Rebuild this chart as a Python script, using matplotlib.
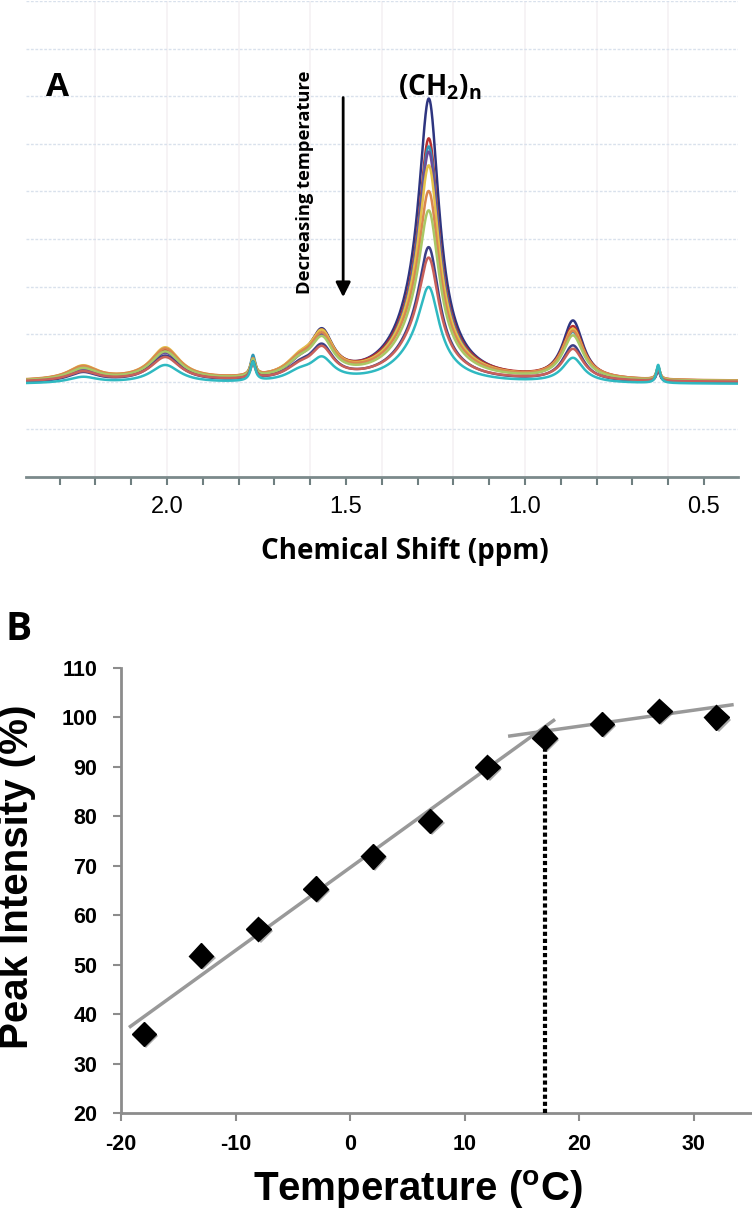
import numpy as np
import matplotlib
matplotlib.use("Agg")
import matplotlib.pyplot as plt
import matplotlib.patheffects as pe
from matplotlib.ticker import MultipleLocator

plt.rcParams['mathtext.fontset'] = 'custom'
plt.rcParams['mathtext.bf'] = 'Liberation Sans:bold'
plt.rcParams['mathtext.sf'] = 'Open Sans:bold'

# ---------------- Panel A data (1H NMR spectra, arbitrary units) ----------------
curve_colors = ['#2e3580', '#b8302e', '#2f97b5', '#6a4c9c', '#e3c24a',
                '#d9874f', '#a9c865', '#3b3f86', '#c8605a', '#2fb9c1']
baselines = [1.96, 2.00, 1.98, 1.97, 2.00, 2.01, 2.00, 1.97, 1.99, 1.95]

peak_centers = [2.235, 2.005, 1.76, 1.63, 1.567, 1.29, 1.268, 0.866, 0.628]
peak_widths = [0.05, 0.05, 0.008, 0.045, 0.038, 0.08, 0.033, 0.035, 0.006]
amp_222 = [0.30, 0.28, 0.25, 0.25, 0.30, 0.28, 0.25, 0.20, 0.20, 0.13]
amp_200 = [0.65, 0.62, 0.60, 0.60, 0.68, 0.65, 0.60, 0.55, 0.50, 0.38]
amp_176 = [0.40, 0.35, 0.45, 0.35, 0.35, 0.35, 0.35, 0.35, 0.30, 0.40]
amp_163 = [0.30, 0.30, 0.28, 0.28, 0.32, 0.30, 0.28, 0.25, 0.22, 0.18]
amp_157 = [0.90, 0.85, 0.80, 0.80, 0.85, 0.80, 0.75, 0.65, 0.60, 0.45]
amp_broad = [1.20, 1.12, 1.08, 1.08, 1.08, 1.04, 0.96, 0.80, 0.76, 0.64]
amp_ch2 = [4.84, 4.04, 3.93, 3.83, 3.51, 3.00, 2.68, 2.09, 1.89, 1.43]
amp_087 = [1.25, 1.10, 1.00, 1.05, 1.05, 1.00, 0.92, 0.75, 0.66, 0.52]
amp_063 = [0.25, 0.25, 0.30, 0.25, 0.25, 0.25, 0.25, 0.25, 0.25, 0.38]
peak_amps = [amp_222, amp_200, amp_176, amp_163, amp_157, amp_broad, amp_ch2, amp_087, amp_063]

ppm_min, ppm_max = 0.405, 2.394
a_ticks = [2.0, 1.5, 1.0, 0.5]
a_ticklabels = ['2.0', '1.5', '1.0', '0.5']
a_vgrid = [2.2, 2.0, 1.8, 1.6, 1.4, 1.2, 1.0, 0.8, 0.6]

# ---------------- Panel B data ----------------
temps = [-18, -13, -8, -3, 2, 7, 12, 17, 22, 27, 32]
intensity = [36.0, 51.8, 57.2, 65.4, 71.9, 79.1, 90.0, 95.9, 98.7, 101.3, 100.0]
fit1_x = [-19.3, 17.9]
fit1_y = [37.3, 99.6]
fit2_x = [13.8, 33.5]
fit2_y = [96.2, 102.6]
transition_T = 17
b_xticks = [-20, -10, 0, 10, 20, 30]
b_yticks = [20, 30, 40, 50, 60, 70, 80, 90, 100, 110]

W, H = 752, 1213
fig = plt.figure(figsize=(W / 100, H / 100), dpi=100)


def fx(px):
    return px / W


def fy(py):
    return 1 - py / H


# ================= Panel A =================
axA = fig.add_axes([fx(26), fy(477), (738 - 26) / W, 476 / H])
axA.set_xlim(ppm_max, ppm_min)
axA.set_ylim(0, 10)

for gx in a_vgrid:
    axA.axvline(gx, color='#f5f1f3', lw=1.2, zorder=0)
for gy in range(1, 11):
    axA.axhline(gy, color='#d9e1ec', lw=1.0, ls=(0, (2, 1.2)), zorder=0)

ppm = np.linspace(ppm_max, ppm_min, 3000)


def lorentz(x, c, g):
    return g ** 2 / ((x - c) ** 2 + g ** 2)


for i, col in enumerate(curve_colors):
    y = np.full_like(ppm, baselines[i])
    for c, g, amps in zip(peak_centers, peak_widths, peak_amps):
        y = y + amps[i] * lorentz(ppm, c, g)
    axA.plot(ppm, y, color=col, lw=1.8, zorder=2 + i * 0.01)

for s in ['top', 'left', 'right']:
    axA.spines[s].set_visible(False)
axA.spines['bottom'].set_color('#7b8a8b')
axA.spines['bottom'].set_linewidth(2)
axA.set_yticks([])
axA.set_xticks(a_ticks)
axA.set_xticklabels(a_ticklabels, fontsize=17, family='Liberation Sans')
axA.xaxis.set_minor_locator(MultipleLocator(0.1))
axA.tick_params(axis='x', which='both', direction='out', length=6, width=1.5,
                color='#6f7f80', pad=8)

# arrow and annotations
axA.annotate('', xy=(1.508, 3.72), xytext=(1.508, 8.03),
             arrowprops=dict(arrowstyle='-|>', lw=2, color='black', mutation_scale=22))
fig.text(fx(305), fy(182), 'Decreasing temperature', rotation=90, ha='center', va='center',
         fontsize=13.2, fontweight='bold', family='Open Sans')
fig.text(fx(440), fy(87), r'(CH$_{\mathsf{2}}$)$_{\mathsf{n}}$', ha='center', va='center',
         fontsize=20, fontweight='bold', family='Open Sans')
fig.text(fx(57), fy(88), 'A', ha='center', va='center', fontsize=24, fontweight='bold', family='Open Sans')
fig.text(fx(405), fy(552), 'Chemical Shift (ppm)', ha='center', va='center',
         fontsize=20, fontweight='bold', family='Open Sans')

# ================= Panel B =================
axB = fig.add_axes([fx(121), fy(1113), (752 - 121) / W, 445 / H])
axB.set_xlim(-20, 35.1)
axB.set_ylim(20, 110)
axB.plot(fit1_x, fit1_y, color='#999999', lw=2.5, zorder=2, solid_capstyle='butt')
axB.plot(fit2_x, fit2_y, color='#999999', lw=2.5, zorder=2, solid_capstyle='butt')
axB.vlines(transition_T, 20, intensity[temps.index(transition_T)], colors='black',
           linestyles=(0, (1, 0.7)), lw=3, zorder=3)
axB.plot(temps, intensity, 'D', ms=12.5, color='black', zorder=4, clip_on=False,
         path_effects=[pe.SimplePatchShadow(offset=(1.5, -1.5), shadow_rgbFace='#555555', alpha=0.5),
                       pe.Normal()])

for s in ['top', 'right']:
    axB.spines[s].set_visible(False)
for s in ['left', 'bottom']:
    axB.spines[s].set_color('#8c8c8c')
    axB.spines[s].set_linewidth(2)
axB.set_xticks(b_xticks)
axB.set_yticks(b_yticks)
axB.set_xticklabels([str(v) for v in b_xticks], fontsize=15.5, fontweight='bold', family='Liberation Sans')
axB.set_yticklabels([str(v) for v in b_yticks], fontsize=15.5, fontweight='bold', family='Liberation Sans')
axB.tick_params(axis='both', direction='out', length=6, width=1.5, color='#8c8c8c')
axB.tick_params(axis='y', pad=11)
axB.tick_params(axis='x', pad=9)

fig.text(fx(19), fy(629), 'B', ha='center', va='center', fontsize=28, fontweight='bold', family='Open Sans')
fig.text(fx(17), fy(877), 'Peak Intensity (%)', rotation=90, ha='center', va='center',
         fontsize=29, fontweight='bold', family='Liberation Sans')
fig.text(fx(418), fy(1190), r'Temperature ($^{\mathbf{o}}$C)', ha='center', va='center',
         fontsize=29, fontweight='bold', family='Liberation Sans')

fig.savefig('out.png', dpi=100)
